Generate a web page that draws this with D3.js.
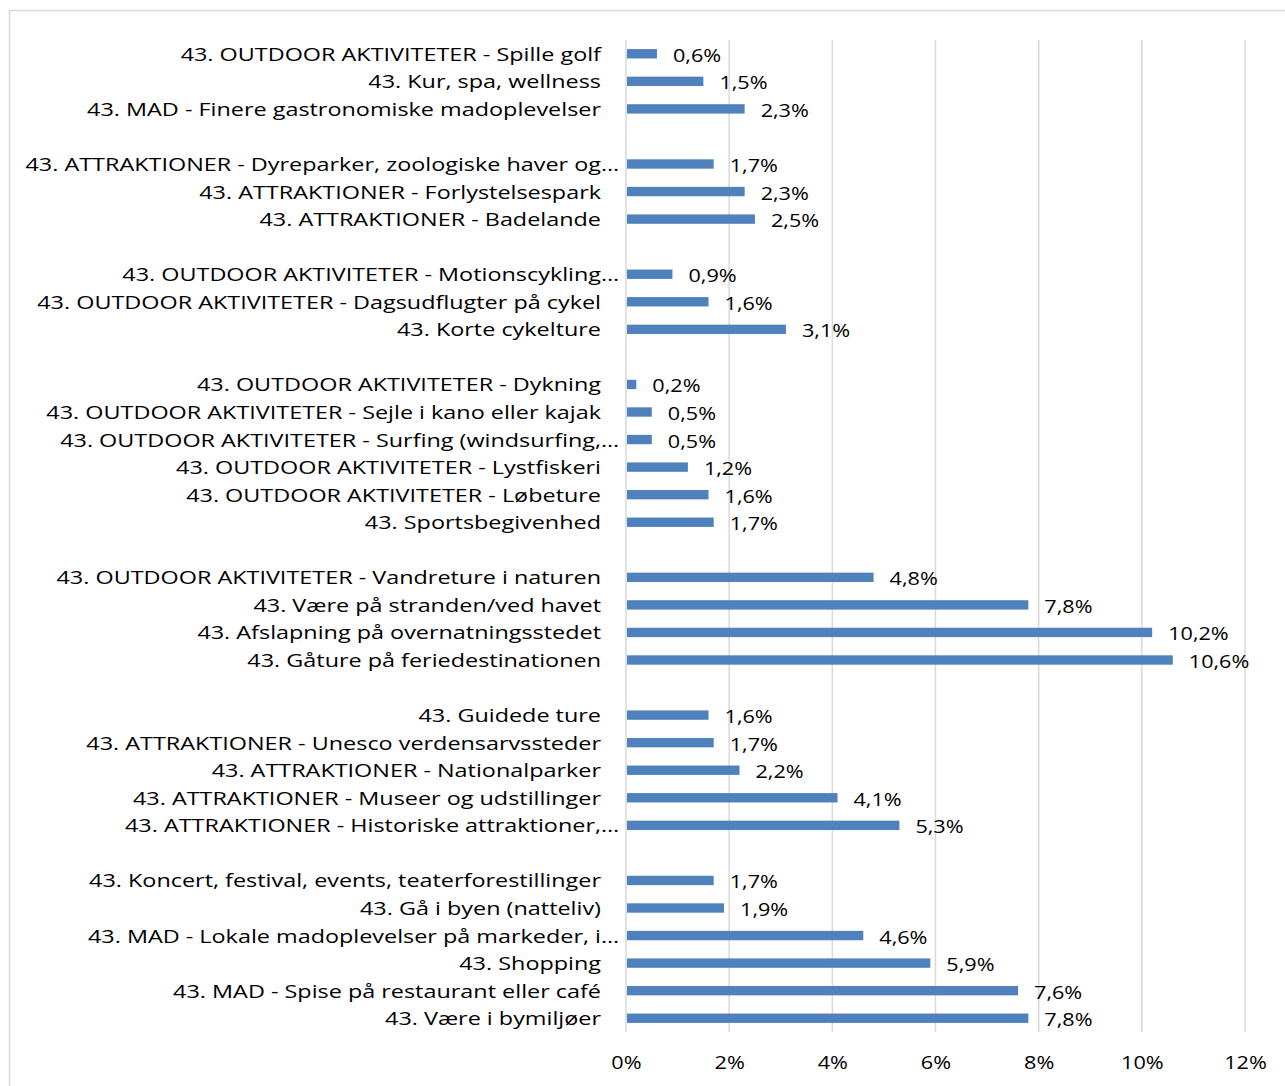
<!DOCTYPE html>
<html>
<head>
<meta charset="utf-8">
<script src="https://cdn.jsdelivr.net/npm/d3@7"></script>
<style>
  html, body { margin: 0; padding: 0; background: #ffffff; }
  svg { display: block; }
  text { font-family: "Open Sans", "Lato", sans-serif; fill: #000; }
</style>
</head>
<body>
<svg id="chart" width="1285" height="1086"></svg>
<script>
// Categories top to bottom; "" marks an empty spacer row between groups
const categories = [
  "43. OUTDOOR AKTIVITETER - Spille golf",
  "43. Kur, spa, wellness",
  "43. MAD - Finere gastronomiske madoplevelser",
  "",
  "43. ATTRAKTIONER - Dyreparker, zoologiske haver og…",
  "43. ATTRAKTIONER - Forlystelsespark",
  "43. ATTRAKTIONER - Badelande",
  "",
  "43. OUTDOOR AKTIVITETER - Motionscykling…",
  "43. OUTDOOR AKTIVITETER - Dagsudflugter på cykel",
  "43. Korte cykelture",
  "",
  "43. OUTDOOR AKTIVITETER - Dykning",
  "43. OUTDOOR AKTIVITETER - Sejle i kano eller kajak",
  "43. OUTDOOR AKTIVITETER - Surfing (windsurfing,…",
  "43. OUTDOOR AKTIVITETER - Lystfiskeri",
  "43. OUTDOOR AKTIVITETER - Løbeture",
  "43. Sportsbegivenhed",
  "",
  "43. OUTDOOR AKTIVITETER - Vandreture i naturen",
  "43. Være på stranden/ved havet",
  "43. Afslapning på overnatningsstedet",
  "43. Gåture på feriedestinationen",
  "",
  "43. Guidede ture",
  "43. ATTRAKTIONER - Unesco verdensarvssteder",
  "43. ATTRAKTIONER - Nationalparker",
  "43. ATTRAKTIONER - Museer og udstillinger",
  "43. ATTRAKTIONER - Historiske attraktioner,…",
  "",
  "43. Koncert, festival, events, teaterforestillinger",
  "43. Gå i byen (natteliv)",
  "43. MAD - Lokale madoplevelser på markeder, i…",
  "43. Shopping",
  "43. MAD - Spise på restaurant eller café",
  "43. Være i bymiljøer"
];

// Percent values, null for spacer rows
const values = [
  0.6, 1.5, 2.3,
  null,
  1.7, 2.3, 2.5,
  null,
  0.9, 1.6, 3.1,
  null,
  0.2, 0.5, 0.5, 1.2, 1.6, 1.7,
  null,
  4.8, 7.8, 10.2, 10.6,
  null,
  1.6, 1.7, 2.2, 4.1, 5.3,
  null,
  1.7, 1.9, 4.6, 5.9, 7.6, 7.8
];

const tickValues = [0, 2, 4, 6, 8, 10, 12];

const FS = 18.5;        // font size
const SX_LABEL = 1.265; // horizontal stretch of category labels
const SX_NUM = 1.17;    // horizontal stretch of numeric labels

const svg = d3.select("#chart");

// outer frame
svg.append("rect")
  .attr("x", 9.5).attr("y", 10.5)
  .attr("width", 1300).attr("height", 1100)
  .attr("fill", "#fff")
  .attr("stroke", "#d9d9d9")
  .attr("stroke-width", 1.5);

const x = d3.scaleLinear().domain([0, 12]).range([626, 1245]);
const y = d3.scaleBand()
  .domain(d3.range(categories.length))
  .range([40, 1032])
  .paddingInner(0.66)
  .paddingOuter(0.33);

// gridlines
svg.append("g")
  .selectAll("line")
  .data(tickValues)
  .join("line")
  .attr("x1", d => x(d)).attr("x2", d => x(d))
  .attr("y1", 40).attr("y2", 1032)
  .attr("stroke", "#d9d9d9")
  .attr("stroke-width", 1.5);

// x axis tick labels
const xAxis = d3.axisBottom(x)
  .tickValues(tickValues)
  .tickSize(0)
  .tickPadding(0)
  .tickFormat(d => d + "%");
const gx = svg.append("g")
  .attr("transform", "translate(0,1069)")
  .call(xAxis);
gx.select(".domain").remove();
gx.selectAll("text")
  .attr("dy", 0)
  .attr("y", 0)
  .attr("transform", `scale(${SX_NUM},1)`)
  .style("font-family", "'Open Sans', sans-serif")
  .style("font-size", FS + "px")
  .attr("fill", "#000");

const rows = categories.map((c, i) => ({ i, c, v: values[i] }));
const data = rows.filter(d => d.v !== null);

// bars
svg.append("g")
  .selectAll("rect")
  .data(data)
  .join("rect")
  .attr("x", x(0) + 1)
  .attr("y", d => y(d.i))
  .attr("width", d => x(d.v) - x(0) - 1)
  .attr("height", y.bandwidth())
  .attr("fill", "#4F81BD");

// value labels
const fmt = d3.format(".1f");
svg.append("g")
  .selectAll("g")
  .data(data)
  .join("g")
  .attr("transform", d => `translate(${x(d.v) + 16},${y(d.i) + y.bandwidth() / 2 + 8}) scale(${SX_NUM},1)`)
  .append("text")
  .style("font-size", FS + "px")
  .text(d => fmt(d.v).replace(".", ",") + "%");

// category labels (right aligned; Excel-style ellipsis hangs past the edge)
const labelRight = 601;
const lg = svg.append("g");
const probe = lg.append("text").style("font-size", FS + "px").text("…");
const ellW = probe.node().getComputedTextLength();
probe.remove();
data.forEach(d => {
  const shift = d.c.endsWith("…") ? ellW * SX_LABEL : 0;
  lg.append("g")
    .attr("transform", `translate(${labelRight + shift},${y(d.i) + y.bandwidth() / 2 + 7}) scale(${SX_LABEL},1)`)
    .append("text")
    .attr("text-anchor", "end")
    .style("font-size", FS + "px")
    .text(d.c);
});
</script>
</body>
</html>
